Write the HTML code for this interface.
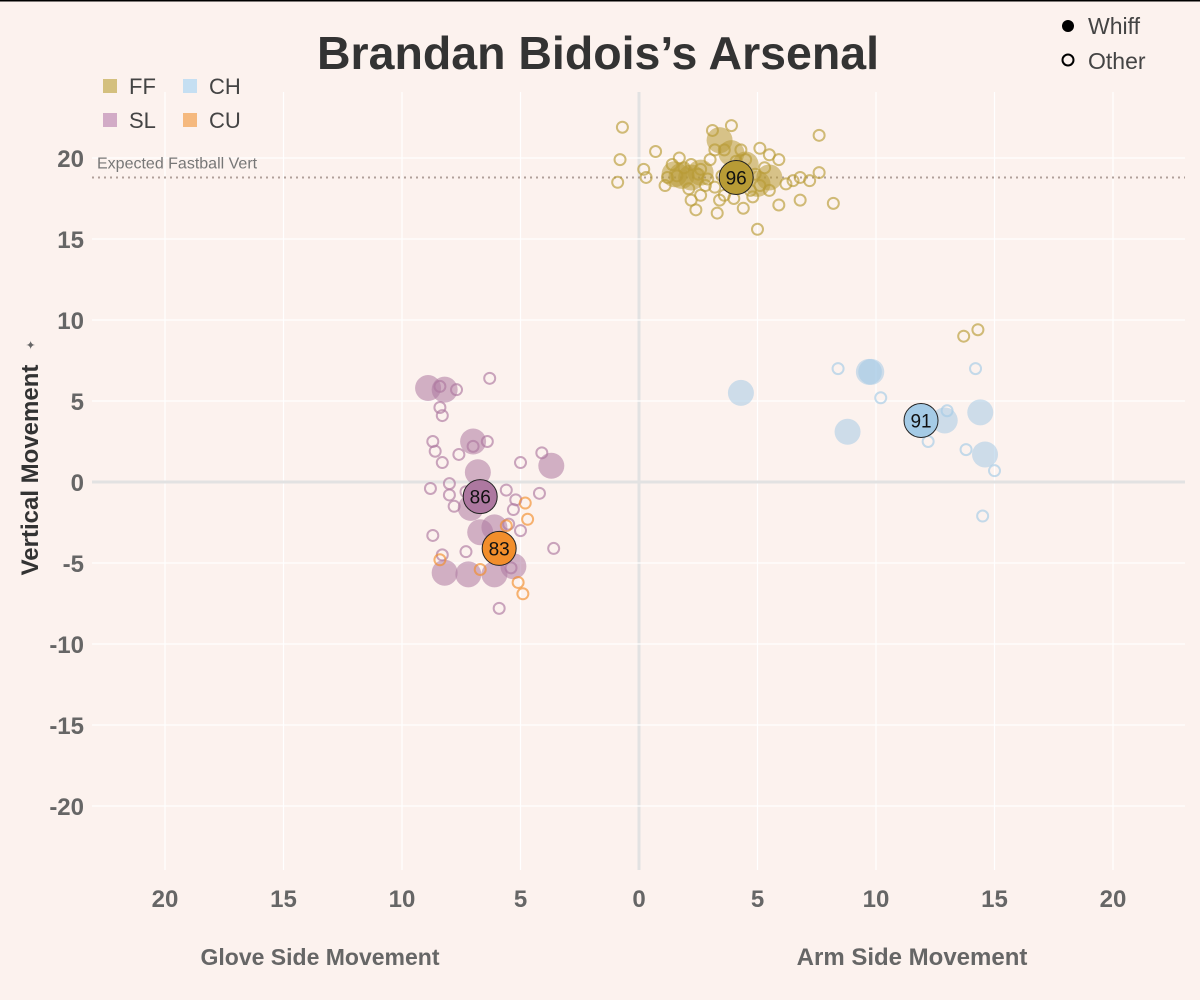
<!DOCTYPE html>
<html><head><meta charset="utf-8"><style>
html,body{margin:0;padding:0;background:#fcf2ee;}
svg{display:block;font-family:"Liberation Sans","DejaVu Sans",sans-serif;}
</style></head><body>
<svg id="chart" width="1200" height="1000" viewBox="0 0 1200 1000">
<rect x="0" y="0" width="1200" height="1000" fill="#fcf2ee"/>
<line x1="0" y1="0.5" x2="1200" y2="0.5" stroke="#000" stroke-width="2"/>
<g id="grid"></g>
<g id="marks"></g>
<text x="598" y="69" text-anchor="middle" font-size="46" font-weight="bold" fill="#333" font-family="Liberation Sans Narrow, Liberation Sans, sans-serif" textLength="562" lengthAdjust="spacingAndGlyphs">Brandan Bidois’s Arsenal</text>
<g font-size="22" fill="#444">
<rect x="103" y="79" width="14" height="14" fill="#d4c07e"/><text x="129" y="94">FF</text>
<rect x="183" y="79" width="14" height="14" fill="#c5dff2"/><text x="209" y="94">CH</text>
<rect x="103" y="113" width="14" height="14" fill="#d2abc6"/><text x="129" y="128">SL</text>
<rect x="183" y="113" width="14" height="14" fill="#f5b97e"/><text x="209" y="128">CU</text>
</g>
<g font-size="23" fill="#444">
<circle cx="1068" cy="26" r="6" fill="#000"/><text x="1088" y="34">Whiff</text>
<circle cx="1068" cy="60" r="5.5" fill="none" stroke="#000" stroke-width="2"/><text x="1088" y="69">Other</text>
</g>
<text transform="translate(38,470) rotate(-90)" text-anchor="middle" font-size="24" font-weight="bold" fill="#333">Vertical Movement</text>
<text x="30" y="355" font-size="12" fill="#666" transform="rotate(-90 30 350)">✦</text>
<text x="320" y="965" text-anchor="middle" font-size="23" font-weight="bold" fill="#666">Glove Side Movement</text>
<text x="912" y="965" text-anchor="middle" font-size="24" font-weight="bold" fill="#666">Arm Side Movement</text>
</svg>
<script>
const xTicks=[-20,-15,-10,-5,0,5,10,15,20];
const yTicks=[-20,-15,-10,-5,0,5,10,15,20];
const expectedFbVert=18.8;
const ffX=[-0.7,-0.8,-0.9,0.2,0.3,0.7,1.7,1.2,2.2,2.6,3.1,3.2,3.6,3.9,4.3,4.5,5.1,5.5,6.5,6.8,7.2,7.6,8.2,7.6,2.4,3.3,5.0,4.4,4.0,2.8,2.6,5.9,5.1,5.5,4.9,1.1,2.1,1.6,6.8,5.9,3.8,3.0,3.6,2.2,3.4,13.7,14.3,1.9,2.9,4.7,5.3,3.5,4.1,6.2,1.4,2.5,4.8,3.2];
const ffY=[21.9,19.9,18.5,19.3,18.8,20.4,20.0,18.8,19.6,19.3,21.7,20.5,20.5,22.0,20.5,19.9,20.6,20.2,18.6,18.8,18.6,19.1,17.2,21.4,16.8,16.6,15.6,16.9,17.5,18.3,17.7,17.1,18.3,18.0,19.0,18.3,18.1,18.9,17.4,19.9,19.3,19.9,17.7,17.4,17.4,9.0,9.4,19.4,18.7,18.0,19.4,18.9,19.8,18.4,19.6,19.0,17.6,18.2];
const ffWhiffX=[3.4,1.5,2.2,5.5,4.5,2.6,3.9,5.0,1.8];
const ffWhiffY=[21.1,19.0,18.8,18.8,19.6,19.1,20.3,18.4,18.9];
const slX=[-6.3,-8.4,-7.7,-8.4,-8.3,-8.7,-8.6,-8.3,-7.6,-6.4,-7.0,-8.8,-8.0,-8.0,-7.8,-7.3,-5.6,-5.0,-4.1,-4.2,-5.2,-5.3,-5.0,-8.7,-8.3,-7.3,-3.6,-5.5,-5.9,-5.4];
const slY=[6.4,5.9,5.7,4.6,4.1,2.5,1.9,1.2,1.7,2.5,2.2,-0.4,-0.1,-0.8,-1.5,-0.6,-0.5,1.2,1.8,-0.7,-1.1,-1.7,-3.0,-3.3,-4.5,-4.3,-4.1,-2.6,-7.8,-5.3];
const slWhiffX=[-8.9,-8.2,-7.0,-6.8,-3.7,-7.1,-6.7,-6.1,-8.2,-7.2,-6.1,-5.3];
const slWhiffY=[5.8,5.7,2.5,0.6,1.0,-1.6,-3.1,-2.8,-5.6,-5.7,-5.7,-5.2];
const cuX=[-4.8,-4.7,-8.4,-6.7,-5.1,-4.9,-5.6];
const cuY=[-1.3,-2.3,-4.8,-5.4,-6.2,-6.9,-2.7];
const chX=[8.4,10.2,14.2,13.0,12.2,13.8,15.0,14.5];
const chY=[7.0,5.2,7.0,4.4,2.5,2.0,0.7,-2.1];
const chWhiffX=[4.3,9.7,9.8,8.8,12.9,14.4,14.6];
const chWhiffY=[5.5,6.8,6.8,3.1,3.8,4.3,1.7];
const avgPitch=["FF","SL","CU","CH"];
const avgX=[4.1,-6.7,-5.9,11.9];
const avgY=[18.8,-0.9,-4.1,3.8];
const avgVelo=["96","86","83","91"];

const NS="http://www.w3.org/2000/svg";
const xs=v=>639+v*23.7;
const ys=v=>482-v*16.2;
const colors={FF:"#b89b35",SL:"#ad78a0",CU:"#f28e2b",CH:"#a5cbe6"};
const grid=document.getElementById('grid');
const marks=document.getElementById('marks');
function mk(tag,attrs,parent){const e=document.createElementNS(NS,tag);for(const k in attrs)e.setAttribute(k,attrs[k]);parent.appendChild(e);return e;}
xTicks.forEach(t=>{
  const l=mk('line',{x1:xs(t),x2:xs(t),y1:92,y2:870,stroke:t===0?'#e2e2e2':'#ffffff','stroke-width':t===0?3:1.2},grid);
  
  
  const tx=mk('text',{x:xs(t),y:907,'text-anchor':'middle','font-size':24,'font-weight':'bold',fill:'#666'},grid);
  tx.textContent=Math.abs(t);
  
  
});
yTicks.forEach(t=>{
  const l=mk('line',{x1:92,x2:1185,y1:ys(t),y2:ys(t),stroke:t===0?'#e2e2e2':'#ffffff','stroke-width':t===0?3:1.2},grid);
  
  
  const tx=mk('text',{x:84,y:ys(t)+9,'text-anchor':'end','font-size':24,'font-weight':'bold',fill:'#666'},grid);
  tx.textContent=t;
  
  
});
const fl=mk('line',{x1:92,x2:1185,y1:ys(expectedFbVert),y2:ys(expectedFbVert),stroke:'#b0a09a','stroke-width':2,'stroke-dasharray':'2,4'},grid);


const flt=mk('text',{x:97,y:ys(expectedFbVert)-9,'font-size':16,fill:'#777'},grid);
flt.textContent='Expected Fastball Vert';



function whiffs(X,Y,c,name){X.forEach((x,i)=>{
  const e=mk('circle',{cx:xs(x),cy:ys(Y[i]),r:13,fill:c,'fill-opacity':0.55},marks);
  
  
});}
function others(X,Y,c,name){X.forEach((x,i)=>{
  const e=mk('circle',{cx:xs(x),cy:ys(Y[i]),r:5.5,fill:'none',stroke:c,'stroke-width':2,'stroke-opacity':0.65},marks);
  
  
});}
whiffs(ffWhiffX,ffWhiffY,colors.FF,'ff-whiff-point');
whiffs(slWhiffX,slWhiffY,colors.SL,'sl-whiff-point');
whiffs(chWhiffX,chWhiffY,colors.CH,'ch-whiff-point');
others(ffX,ffY,colors.FF,'ff-other-point');
others(slX,slY,colors.SL,'sl-other-point');
others(cuX,cuY,colors.CU,'cu-other-point');
others(chX,chY,colors.CH,'ch-other-point');
avgPitch.forEach((p,i)=>{
  const c=mk('circle',{cx:xs(avgX[i]),cy:ys(avgY[i]),r:17,fill:colors[p],stroke:'#222','stroke-width':1},marks);
  
  
  const t=mk('text',{x:xs(avgX[i]),y:ys(avgY[i])+7,'text-anchor':'middle','font-size':19,fill:'#111'},marks);
  t.textContent=avgVelo[i];
  
  
});
</script>
</body></html>
